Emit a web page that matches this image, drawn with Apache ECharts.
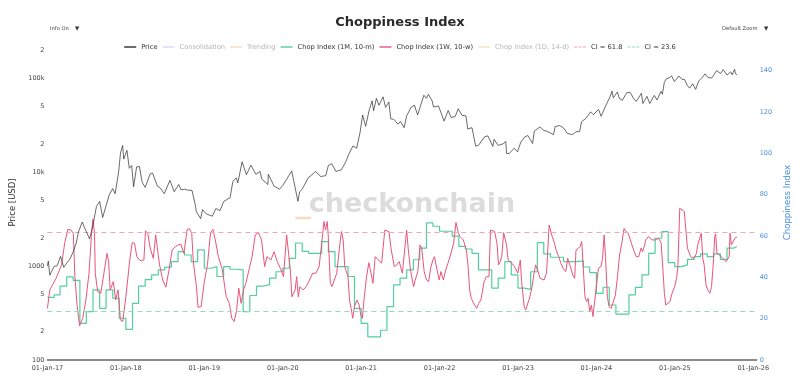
<!DOCTYPE html>
<html><head><meta charset="utf-8">
<script src="https://cdn.jsdelivr.net/npm/echarts@6/dist/echarts.min.js"></script>
<style>html,body{margin:0;padding:0;background:#fff}#c{width:800px;height:389px}</style>
</head><body><div id="c"></div>
<script>
// ---------- DATA ----------
const xTickYears = [2017,2018,2019,2020,2021,2022,2023,2024,2025,2026];
const priceTicks = [100,200,500,1000,2000,5000,10000,20000,50000,100000,200000];
const chopTicks = [0,20,40,60,80,100,120,140];
const ciHigh = 61.8, ciLow = 23.6;

const priceDates = ['2017-01-01','2017-01-05','2017-01-12','2017-02-01','2017-02-15','2017-03-03','2017-03-18','2017-04-01','2017-04-15','2017-05-01','2017-05-15','2017-05-25','2017-06-01','2017-06-12','2017-06-25','2017-07-16','2017-08-01','2017-08-17','2017-09-01','2017-09-15','2017-10-01','2017-10-15','2017-11-01','2017-11-12','2017-11-28','2017-12-07','2017-12-17','2017-12-22',
'2018-01-06','2018-01-17','2018-01-28','2018-02-06','2018-02-20','2018-03-05','2018-03-18','2018-04-01','2018-04-24','2018-05-05','2018-05-28','2018-06-10','2018-06-29','2018-07-25','2018-08-14','2018-09-04','2018-09-15','2018-10-01','2018-10-15','2018-11-05','2018-11-20','2018-11-25','2018-12-15','2018-12-24',
'2019-01-10','2019-02-07','2019-02-24','2019-03-15','2019-04-02','2019-04-15','2019-05-01','2019-05-14','2019-05-30','2019-06-06','2019-06-26','2019-07-16','2019-08-06','2019-08-29','2019-09-18','2019-09-25','2019-10-24','2019-10-26','2019-11-22','2019-12-17',
'2020-01-01','2020-02-12','2020-03-12','2020-03-20','2020-04-01','2020-04-30','2020-05-15','2020-06-01','2020-06-27','2020-07-20','2020-08-01','2020-08-17','2020-09-05','2020-10-01','2020-10-21','2020-11-05','2020-11-24','2020-12-11','2020-12-27',
'2021-01-08','2021-01-22','2021-02-08','2021-02-21','2021-02-28','2021-03-13','2021-03-25','2021-04-13','2021-04-25','2021-05-10','2021-05-19','2021-06-01','2021-06-22','2021-07-03','2021-07-20','2021-08-01','2021-08-22','2021-09-06','2021-09-21','2021-10-01','2021-10-20','2021-11-01','2021-11-10','2021-11-28','2021-12-04','2021-12-27',
'2022-01-10','2022-01-22','2022-02-10','2022-02-24','2022-03-15','2022-03-29','2022-04-15','2022-05-04','2022-05-12','2022-06-01','2022-06-18','2022-07-01','2022-07-29','2022-08-14','2022-09-06','2022-09-12','2022-10-01','2022-10-25','2022-11-05','2022-11-09','2022-11-21','2022-12-14','2022-12-30',
'2023-01-14','2023-02-01','2023-02-16','2023-03-10','2023-03-18','2023-04-13','2023-05-01','2023-05-20','2023-06-15','2023-06-23','2023-07-13','2023-08-01','2023-08-18','2023-09-11','2023-09-28','2023-10-15','2023-10-24','2023-11-15','2023-12-05','2023-12-18',
'2024-01-11','2024-01-23','2024-02-15','2024-03-05','2024-03-14','2024-03-20','2024-04-08','2024-04-17','2024-05-01','2024-05-21','2024-06-06','2024-06-24','2024-07-05','2024-07-29','2024-08-05','2024-08-24','2024-09-06','2024-09-27','2024-10-10','2024-10-29','2024-11-04','2024-11-13','2024-11-22','2024-12-05','2024-12-17','2024-12-30',
'2025-01-08','2025-01-20','2025-02-03','2025-02-15','2025-02-28','2025-03-11','2025-03-25','2025-04-08','2025-04-22','2025-05-10','2025-05-22','2025-06-05','2025-06-22','2025-07-03','2025-07-14','2025-08-02','2025-08-14','2025-09-01','2025-09-18','2025-09-25','2025-10-06','2025-10-10','2025-10-17'];
const priceValues = [1000,1130,800,990,1010,1270,970,1080,1180,1420,1760,2300,2400,2950,2500,1950,2750,4300,4900,3300,4400,5700,6700,5900,9900,16000,19300,13800,
17100,11000,11800,7000,11400,11500,7800,6900,9600,9800,7100,6800,5900,8200,6200,7400,6500,6600,6450,6400,4500,3800,3200,4000,
3600,3400,4100,3900,4900,5100,5350,8000,8700,7700,12900,9400,11900,9500,10200,8500,7400,9500,7100,6600,
7200,10300,4900,6200,6600,8800,9300,10200,9000,9200,11800,12300,10200,10600,12900,15600,19100,18000,26500,
40700,30800,46300,57500,45100,61200,51700,63500,49000,56000,37000,36700,32500,34700,29800,39900,49300,51700,40700,48200,66000,61300,67600,57200,49400,50700,
41800,35000,45400,38300,39300,47400,40500,39700,28900,29800,19000,19300,23800,24400,18800,22400,19300,20100,21300,15900,15800,18000,16500,
20900,23700,24600,20200,27400,30400,27900,27100,25100,30600,31400,29700,26000,25100,27000,27100,34500,37800,44000,41000,
46600,39500,51900,63800,73100,62000,71600,61200,58300,70100,71000,60300,56700,69300,54000,64200,53900,65800,58800,72700,67800,90500,98800,101000,106100,92300,
94700,106000,97500,97500,84000,78600,87500,76300,93400,103000,111700,101500,100900,109600,121000,112500,124000,108300,117100,109000,124700,113200,108000];

// Chop Index (1M, 10-m): one value per month from Jan 2017
const chop1MStart = [2017, 1];
const chop1MValues = [30.3,31.5,35.7,40.2,38.5,17.7,23.4,33.9,25.0,33.9,29.9,20.2,
14.8,27.4,35.7,38.9,41.2,43.6,44.9,47.6,52.4,50.8,47.6,53.3,
44.4,45.2,40.4,45.2,43.9,43.6,23.4,31.2,35.7,36.5,39.6,42.7,
44.4,49.2,56.6,52.6,51.6,51.6,57.3,52.4,45.2,45.2,40.4,25.0,
17.7,11.2,11.2,14.4,25.8,36.3,39.6,43.6,48.5,54.1,66.3,64.7,
62.3,62.3,59.9,55.0,53.7,51.6,43.6,43.6,34.8,39.6,47.6,41.2,
34.8,34.2,42.7,56.8,51.3,49.7,49.7,47.6,47.6,48.0,45.0,42.3,
32.2,35.2,26.6,22.2,22.2,31.5,35.1,41.2,51.6,58.9,62.1,47.1,
45.2,46.0,48.7,50.0,51.3,50.0,51.3,48.7,54.1,54.9];
const lastDate = '2025-10-17';

// Chop Index (1W, 10-w): decimal year, value
const chop1WYears = [2017.00,2017.03,2017.11,2017.18,2017.22,2017.26,2017.30,2017.33,2017.35,2017.38,2017.41,2017.45,2017.49,2017.53,2017.56,2017.58,2017.60,2017.61,2017.64,2017.68,2017.72,2017.76,2017.78,2017.80,2017.84,2017.87,2017.90,2017.93,2017.96,
2018.00,2018.05,2018.08,2018.11,2018.14,2018.18,2018.23,2018.25,2018.28,2018.31,2018.35,2018.38,2018.41,2018.43,2018.47,2018.51,2018.55,2018.59,2018.63,2018.67,2018.70,2018.74,2018.78,2018.81,2018.84,2018.86,2018.90,2018.92,2018.96,
2019.00,2019.04,2019.08,2019.11,2019.14,2019.18,2019.23,2019.28,2019.32,2019.35,2019.38,2019.41,2019.44,2019.47,2019.50,2019.53,2019.57,2019.61,2019.65,2019.69,2019.73,2019.77,2019.80,2019.85,2019.89,2019.93,2019.97,2020.01,2020.05,
2020.097,2020.117,2020.158,2020.178,2020.199,2020.219,2020.260,2020.301,2020.342,2020.383,2020.424,2020.464,2020.497,2020.526,2020.546,2020.567,2020.579,2020.607,2020.628,2020.648,2020.689,2020.730,2020.750,2020.771,2020.791,2020.832,2020.852,2020.873,2020.893,2020.914,2020.946,2020.975,2020.995,
2021.016,2021.036,2021.069,2021.098,2021.126,2021.151,2021.179,2021.220,2021.261,2021.302,2021.322,2021.355,2021.384,2021.424,2021.453,2021.486,2021.526,2021.559,2021.580,2021.600,2021.629,2021.669,2021.690,2021.723,2021.751,2021.772,2021.804,2021.833,2021.861,2021.886,2021.915,2021.935,2021.968,2021.996,
2022.017,2022.049,2022.078,2022.107,2022.139,2022.180,2022.209,2022.221,2022.241,2022.262,2022.303,2022.343,2022.364,2022.384,2022.405,2022.425,2022.446,2022.474,2022.499,2022.527,2022.568,2022.597,2022.630,2022.650,2022.670,2022.703,2022.732,2022.752,2022.773,2022.793,2022.817,2022.834,2022.854,2022.875,2022.915,2022.956,2022.997,
2023.030,2023.046,2023.079,2023.099,2023.152,2023.180,2023.201,2023.225,2023.250,2023.282,2023.303,2023.331,2023.364,2023.397,2023.421,2023.437,2023.466,2023.486,2023.519,2023.548,2023.576,2023.609,2023.634,2023.650,2023.674,2023.699,2023.723,2023.740,2023.764,2023.793,2023.813,2023.834,2023.854,2023.875,2023.895,2023.915,2023.936,2023.956,2023.977,
2024.009,2024.026,2024.058,2024.079,2024.099,2024.116,2024.140,2024.161,2024.189,2024.214,2024.242,2024.271,2024.295,2024.324,2024.353,2024.377,2024.406,2024.446,2024.475,2024.508,2024.540,2024.569,2024.589,2024.610,2024.630,2024.663,2024.683,2024.712,2024.753,2024.794,2024.826,2024.843,2024.867,2024.884,2024.908,2024.937,2024.965,2024.998,
2025.022,2025.039,2025.063,2025.088,2025.121,2025.141,2025.161,2025.182,2025.202,2025.223,2025.243,2025.276,2025.292,2025.317,2025.337,2025.357,2025.374,2025.398,2025.419,2025.447,2025.468,2025.488,2025.509,2025.521,2025.537,2025.570,2025.611,2025.652,2025.693,2025.705,2025.721,2025.742,2025.766,2025.795];
const chop1WValues = [25.0,33.9,39.5,46.0,56.5,63.2,62.9,61.3,40.3,25.8,16.5,20.2,29.0,42.0,59.7,68.1,61.3,42.0,33.1,32.3,42.0,51.6,47.6,33.9,37.9,29.0,33.9,19.4,18.6,
30.6,48.4,56.8,56.5,50.0,48.1,48.4,62.4,61.3,54.1,49.2,60.5,51.6,46.0,38.7,35.2,43.6,53.2,54.8,55.7,56.1,51.6,62.9,63.6,61.3,47.6,35.5,25.5,25.8,
37.9,46.0,61.6,63.2,58.1,50.0,43.6,30.6,27.4,20.2,18.6,23.4,34.7,27.4,33.9,37.1,43.6,50.0,60.5,61.6,58.1,45.2,50.0,48.4,52.4,47.6,44.4,40.3,60.5,
43.6,30.6,33.9,40.3,30.6,35.5,33.9,35.5,38.7,42.0,42.0,45.2,56.5,67.0,62.9,67.0,61.3,37.1,35.5,36.3,42.0,56.5,62.1,58.1,45.2,40.3,29.0,25.0,20.2,25.8,29.0,26.6,21.8,
20.2,29.0,40.3,47.1,42.0,37.1,50.0,48.4,46.8,62.9,63.7,62.1,53.2,45.2,46.0,47.6,42.0,54.9,62.9,54.1,43.6,35.5,38.7,42.8,55.7,54.1,42.8,38.7,37.9,44.4,48.4,50.0,43.6,38.7,
42.8,38.7,43.6,46.8,50.8,56.5,66.5,67.0,61.3,59.7,58.1,53.2,45.2,33.9,29.8,29.0,26.6,25.0,27.4,29.0,37.9,40.3,40.3,62.9,63.2,62.1,56.5,46.0,47.6,50.0,61.6,61.3,55.7,48.4,47.1,45.2,42.0,
48.4,37.9,25.8,24.2,30.6,35.5,41.1,46.0,43.6,39.5,40.3,38.7,42.0,65.3,64.5,59.7,56.5,53.2,50.0,46.8,44.4,42.8,49.2,48.4,44.4,41.1,39.5,53.2,54.1,54.9,57.3,43.6,30.6,28.2,29.8,23.4,26.6,21.0,28.2,
38.7,44.4,45.2,49.2,60.5,50.0,30.6,25.8,25.0,25.8,31.4,41.1,50.8,56.5,63.7,62.1,61.3,56.5,53.2,50.0,50.0,54.1,52.4,54.9,58.1,59.7,60.5,58.1,58.1,58.9,56.5,46.8,32.3,26.6,27.4,28.2,32.3,35.5,
39.5,45.2,73.4,74.2,71.8,71.0,54.1,54.9,50.0,50.8,49.2,51.6,55.7,58.9,61.3,49.2,46.0,36.3,33.9,32.3,35.5,45.2,59.7,61.0,51.6,50.8,49.2,47.6,50.0,61.3,55.7,56.5,58.9,59.7];

const trendYears = [2020.16, 2020.36];
const trendValues = [68.7, 68.7];

// ---------- HELPERS ----------
function toYear(s){const p=s.split('-').map(Number);const a=Date.UTC(p[0],0,1),b=Date.UTC(p[0]+1,0,1);return p[0]+(Date.UTC(p[0],p[1]-1,p[2]||1)-a)/(b-a);}
const FONT='DejaVu Sans';
const priceData = priceDates.map((d,i)=>[toYear(d), Math.log10(priceValues[i])]);
const chop1MData = chop1MValues.map((v,i)=>{const m=chop1MStart[1]-1+i;const y=chop1MStart[0]+Math.floor(m/12);return [toYear(y+'-'+(m%12+1)+'-01'), v];});
chop1MData.push([toYear(lastDate), chop1MValues[chop1MValues.length-1]]);
const chop1WData = chop1WYears.map((y,i)=>[y, chop1WValues[i]]);
const trendData = trendYears.map((y,i)=>[y, trendValues[i]]);
function priceLabel(v){const p=Math.round(Math.pow(10,v));if(p===100)return '100';if(p===1000)return '1000';if(p===10000)return '10k';if(p===100000)return '100k';return String(p).charAt(0);}

const LINE_ICON='path://M0,0M0,8M0,3.3L12,3.3L12,4.7L0,4.7Z';
const DASH_ICON='path://M0,0M0,8M0,3.4h3.2v1.2h-3.2zM4.4,3.4h3.2v1.2h-3.2zM8.8,3.4h3.2v1.2h-3.2z';
const GREY='#b4b4b4';

const chart = echarts.init(document.getElementById('c'), null, {renderer:'canvas'});
chart.setOption({
  animation:false,
  backgroundColor:'#fff',
  textStyle:{fontFamily:FONT},
  title:{text:'Choppiness Index',left:'center',top:11,textStyle:{fontFamily:FONT,fontSize:13,fontWeight:'bold',color:'#2a2a2a'}},
  legend:{top:38,left:'center',itemWidth:12,itemHeight:8,itemGap:5,icon:LINE_ICON,
    textStyle:{fontFamily:FONT,fontSize:6.7,color:'#333'},
    data:[{name:'Price'},{name:'Consolidation',textStyle:{color:GREY}},{name:'Trending',textStyle:{color:GREY}},
      {name:'Chop Index (1M, 10-m)'},{name:'Chop Index (1W, 10-w)'},{name:'Chop Index (1D, 14-d)',textStyle:{color:GREY}},
      {name:'CI = 61.8',icon:DASH_ICON},{name:'CI = 23.6',icon:DASH_ICON}]},
  grid:{left:34,right:28,top:45,bottom:29},
  xAxis:{type:'value',min:2017,max:2026.044,
    axisLine:{show:true,lineStyle:{color:'#666',width:1.5}},axisTick:{show:false},splitLine:{show:false},
    axisLabel:{customValues:xTickYears,formatter:v=>'01-Jan-'+String(Math.round(v)).slice(2),fontSize:6.5,color:'#444',margin:5,fontFamily:FONT}},
  yAxis:[
    {type:'value',position:'left',min:2,max:5.355,
      name:'Price [USD]',nameLocation:'middle',nameRotate:90,nameGap:27,nameTextStyle:{fontSize:8.5,color:'#333',fontFamily:FONT},
      axisLine:{show:false},axisTick:{show:false},splitLine:{show:false},
      axisLabel:{customValues:priceTicks.map(p=>Math.log10(p)),formatter:priceLabel,fontSize:6.5,color:'#444',margin:3,fontFamily:FONT}},
    {type:'value',position:'right',min:0,max:152.4,
      name:'Choppiness Index',nameLocation:'middle',nameRotate:90,nameGap:23,nameTextStyle:{fontSize:8.5,color:'#4b8fe2',fontFamily:FONT},
      axisLine:{show:false},axisTick:{show:false},splitLine:{show:false},
      axisLabel:{customValues:chopTicks,fontSize:6.5,color:'#4b8fe2',margin:3,fontFamily:FONT}}
  ],
  graphic:[
    {type:'text',z:0,silent:true,style:{text:'checkonchain',x:412,y:205,align:'center',verticalAlign:'middle',font:'bold 27px "DejaVu Sans"',fill:'#dcdcdc'}},
    {type:'text',style:{text:'Info On',x:50,y:29,verticalAlign:'middle',font:'5.2px "DejaVu Sans"',fill:'#444'}},
    {type:'text',style:{text:'▼',x:75,y:29,verticalAlign:'middle',font:'5.5px "DejaVu Sans"',fill:'#333'}},
    {type:'text',style:{text:'Default Zoom',x:722,y:29,verticalAlign:'middle',font:'5.2px "DejaVu Sans"',fill:'#444'}},
    {type:'text',style:{text:'▼',x:764,y:29,verticalAlign:'middle',font:'5.5px "DejaVu Sans"',fill:'#333'}}
  ],
  series:[
    {name:'Price',type:'line',symbol:'none',yAxisIndex:0,data:priceData,z:5,color:'#2b2b2b',lineStyle:{width:0.7,color:'#2b2b2b'}},
    {name:'Consolidation',type:'line',symbol:'none',yAxisIndex:1,data:[],color:'#d9d9f5',lineStyle:{width:2,color:'#d9d9f5'}},
    {name:'Trending',type:'line',symbol:'none',yAxisIndex:1,data:trendData,color:'#f7dcc4',lineStyle:{width:2.5,color:'#f7dcc4'}},
    {name:'Chop Index (1M, 10-m)',type:'line',symbol:'none',step:'end',yAxisIndex:1,data:chop1MData,z:3,color:'#52cf9d',lineStyle:{width:1.2,color:'#52cf9d'}},
    {name:'Chop Index (1W, 10-w)',type:'line',symbol:'none',yAxisIndex:1,data:chop1WData,z:4,color:'#e9557a',lineStyle:{width:1,color:'#e9557a'}},
    {name:'Chop Index (1D, 14-d)',type:'line',symbol:'none',yAxisIndex:1,data:[],color:'#f2e2b6',lineStyle:{width:1,color:'#f2e2b6'}},
    {name:'CI = 61.8',type:'line',symbol:'none',yAxisIndex:1,data:[],color:'#f3a5b8',lineStyle:{width:1,color:'#f3a5b8'},
      markLine:{silent:true,symbol:'none',label:{show:false},lineStyle:{color:'#f3a5b8',type:[5,4],width:1},
        data:[{yAxis:ciHigh,lineStyle:{color:'#f3a5b8',type:[5,4],width:1}}]}},
    {name:'CI = 23.6',type:'line',symbol:'none',yAxisIndex:1,data:[],color:'#8fdcbf',lineStyle:{width:1,color:'#8fdcbf'},
      markLine:{silent:true,symbol:'none',label:{show:false},lineStyle:{color:'#8fdcbf',type:[5,4],width:1},
        data:[{yAxis:ciLow,lineStyle:{color:'#8fdcbf',type:[5,4],width:1}}]}}
  ]
});
</script></body></html>
